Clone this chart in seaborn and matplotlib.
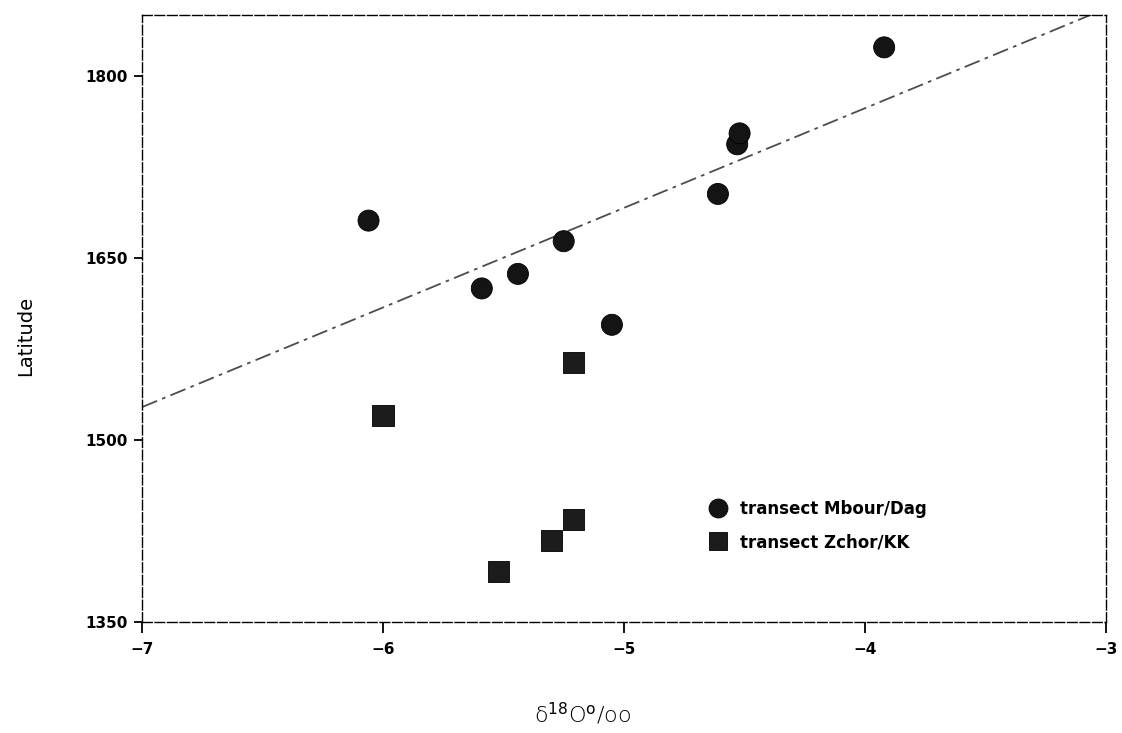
import numpy as np
import pandas as pd
import matplotlib
matplotlib.use("Agg")
import matplotlib.pyplot as plt
import seaborn as sns

# delta 18O (per mil) vs latitude
mbour_d18o = [-6.06, -5.59, -5.44, -5.25, -5.05, -4.61, -4.53, -4.52, -3.92]
mbour_lat = [1681, 1625, 1637, 1664, 1595, 1703, 1744, 1753, 1824]
zchor_d18o = [-6.00, -5.21, -5.52, -5.30, -5.21]
zchor_lat = [1520, 1564, 1391, 1417, 1434]
transect_names = ["transect Mbour/Dag", "transect Zchor/KK"]
x_ticks = [-7, -6, -5, -4, -3]
y_ticks = [1350, 1500, 1650, 1800]

df = pd.DataFrame({
    "d18o": mbour_d18o + zchor_d18o,
    "lat": mbour_lat + zchor_lat,
    "transect": [transect_names[0]] * len(mbour_d18o) + [transect_names[1]] * len(zchor_d18o),
})

sns.set_style("ticks")
plt.rcParams["font.family"] = ["DejaVu Sans"]
plt.rcParams["text.color"] = "black"
plt.rcParams["axes.labelcolor"] = "black"
plt.rcParams["xtick.color"] = "black"
plt.rcParams["ytick.color"] = "black"

fig = plt.figure(figsize=(11.22, 7.33), dpi=100)
ax = fig.add_axes([0.1266, 0.152, 0.859, 0.828])
ax.set_xlim(-7, -3)
ax.set_ylim(1350, 1851)

# regression line through the Mbour/Dag transect, spanning the whole axis
sns.regplot(
    data=df[df["transect"] == transect_names[0]],
    x="d18o",
    y="lat",
    ax=ax,
    scatter=False,
    ci=None,
    truncate=False,
    line_kws={"color": "0.3", "linewidth": 1.3, "linestyle": (0, (9, 3, 2, 3))},
)

sns.scatterplot(
    data=df,
    x="d18o",
    y="lat",
    hue="transect",
    style="transect",
    markers={transect_names[0]: "o", transect_names[1]: "s"},
    palette={transect_names[0]: "#141414", transect_names[1]: "#1c1c1c"},
    s=230,
    edgecolor="#000000",
    linewidth=0.6,
    ax=ax,
    zorder=3,
)

ax.set_xlim(-7, -3)
ax.set_ylim(1350, 1851)
ax.set_xticks(x_ticks)
ax.set_yticks(y_ticks)
ax.set_xticklabels([f"\u2212{abs(t)}" for t in x_ticks], fontweight="bold", fontsize=11)
ax.set_yticklabels([str(t) for t in y_ticks], fontweight="bold", fontsize=11)
ax.tick_params(axis="x", direction="out", length=8, width=1.3, pad=7)
ax.tick_params(axis="y", direction="out", length=6, width=1.3, pad=4)

for side in ["left", "right", "top", "bottom"]:
    ax.spines[side].set_visible(True)
    ax.spines[side].set_color("black")
    ax.spines[side].set_linewidth(1.0)
    ax.spines[side].set_linestyle((0, (7, 2)))

ax.set_xlabel("\u03b4$^{18}$O$^{\\mathrm{o}}$/oo", fontsize=16, fontweight="light")
ax.xaxis.set_label_coords(0.457, -0.13)
ax.set_ylabel("Latitude", fontsize=14)
ax.yaxis.set_label_coords(-0.111, 0.47)

leg = ax.legend(
    loc="upper left",
    bbox_to_anchor=(0.565, 0.225),
    frameon=False,
    fontsize=12,
    handletextpad=0.3,
    labelspacing=0.9,
    markerscale=0.9,
)
for txt in leg.get_texts():
    txt.set_fontweight("bold")

fig.savefig("out.png", dpi=100)
plt.close(fig)
